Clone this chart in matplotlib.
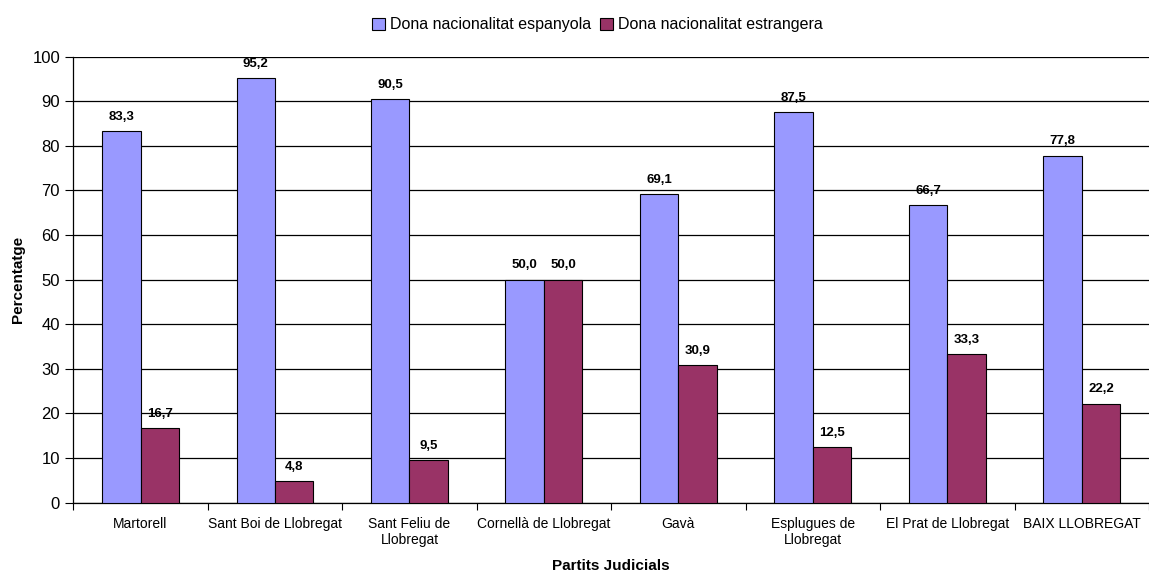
import matplotlib
matplotlib.use('Agg')
import matplotlib.pyplot as plt
import numpy as np

partits = ['Martorell', 'Sant Boi de Llobregat', 'Sant Feliu de\nLlobregat',
           'Cornellà de Llobregat', 'Gavà', 'Esplugues de\nLlobregat',
           'El Prat de Llobregat', 'BAIX LLOBREGAT']
espanyola = [83.3, 95.2, 90.5, 50.0, 69.1, 87.5, 66.7, 77.8]
estrangera = [16.7, 4.8, 9.5, 50.0, 30.9, 12.5, 33.3, 22.2]
yticks = list(range(0, 101, 10))

plt.rcParams['font.family'] = ['Liberation Sans Narrow', 'Liberation Sans', 'DejaVu Sans']

fig = plt.figure(figsize=(11.49, 5.79), dpi=100)
ax = fig.add_axes([0.0638, 0.1318, 0.9362, 0.7703])

x = np.arange(len(partits))
w = 0.286
b1 = ax.bar(x - w / 2, espanyola, w, color='#9999FF', edgecolor='black', linewidth=0.8,
            label='Dona nacionalitat espanyola', zorder=3)
b2 = ax.bar(x + w / 2, estrangera, w, color='#993366', edgecolor='black', linewidth=0.8,
            label='Dona nacionalitat estrangera', zorder=3)

# data labels with comma decimals
for bars, vals in ((b1, espanyola), (b2, estrangera)):
    for rect, v in zip(bars, vals):
        ax.annotate(f'{v:.1f}'.replace('.', ','),
                    (rect.get_x() + rect.get_width() / 2, rect.get_height()),
                    xytext=(0, 6), textcoords='offset points',
                    ha='center', va='bottom', fontsize=9.5, fontweight='bold', zorder=4)

ax.set_xlim(-0.5, len(partits) - 0.5)
ax.set_ylim(0, 100)
ax.set_yticks(yticks)
ax.tick_params(axis='y', labelsize=12, length=6, width=0.8, direction='out')

# category boundaries as ticks, names in the middle
ax.set_xticks(np.arange(len(partits) + 1) - 0.5)
ax.set_xticklabels([])
ax.set_xticks(x, minor=True)
ax.set_xticklabels(partits, minor=True, fontsize=10)
ax.tick_params(axis='x', which='major', length=5, width=0.8, direction='out')
ax.tick_params(axis='x', which='minor', length=0, pad=10)

ax.grid(axis='y', color='black', linewidth=0.9, zorder=0)
ax.set_axisbelow(True)
for s in ('top', 'right'):
    ax.spines[s].set_visible(False)
ax.spines['left'].set_linewidth(0.9)
ax.spines['bottom'].set_linewidth(0.9)

ax.set_ylabel('Percentatge', fontsize=11, fontweight='bold', labelpad=5)
ax.set_xlabel('Partits Judicials', fontsize=11, fontweight='bold', labelpad=9)

fig.legend(handles=[b1, b2], loc='upper center', bbox_to_anchor=(0.52, 0.995), ncol=2,
           frameon=False, fontsize=11.5, handlelength=0.8, handleheight=0.8,
           handletextpad=0.3, columnspacing=0.6)

fig.savefig('out.png', dpi=100)
